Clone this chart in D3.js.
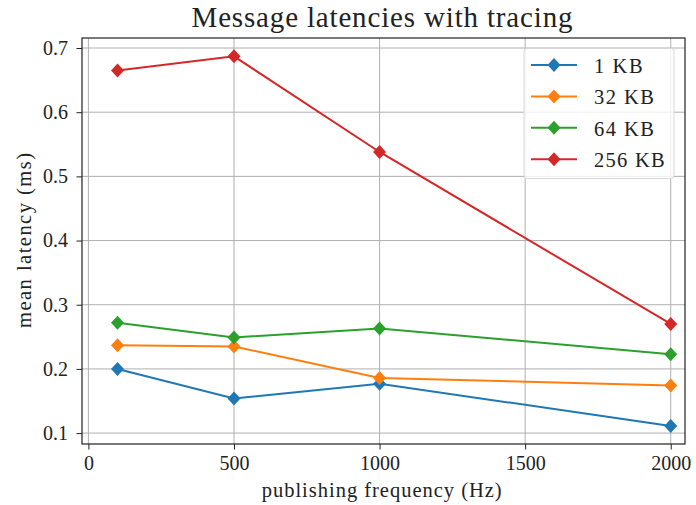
<!DOCTYPE html>
<html>
<head>
<meta charset="utf-8">
<script src="https://cdn.jsdelivr.net/npm/d3@7"></script>
<style>
  body { margin: 0; background: #fff; }
  text { font-family: "Liberation Serif", "DejaVu Serif", serif; fill: #222; }
</style>
</head>
<body>
<svg id="chart" width="696" height="505"></svg>
<script>
var freqs = [100, 500, 1000, 2000];
var lat1 = [0.200, 0.154, 0.177, 0.111];
var lat32 = [0.237, 0.235, 0.186, 0.174];
var lat64 = [0.272, 0.249, 0.263, 0.223];
var lat256 = [0.665, 0.687, 0.538, 0.270];
var xTicks = [0, 500, 1000, 1500, 2000];
var yTicks = [0.1, 0.2, 0.3, 0.4, 0.5, 0.6, 0.7];

var series = [
  {name: '1 KB', values: lat1, color: '#1f77b4', w: 48.6},
  {name: '32 KB', values: lat32, color: '#ff7f0e', w: 60},
  {name: '64 KB', values: lat64, color: '#2ca02c', w: 60},
  {name: '256 KB', values: lat256, color: '#d62728', w: 70.7}
];

var margin = {left: 82, top: 38, right: 685, bottom: 444};
var svg = d3.select('#chart');

var x = d3.scaleLinear().domain([-22, 2049]).range([margin.left, margin.right]);
var y = d3.scaleLinear().domain([0.083, 0.7156]).range([margin.bottom, margin.top]);

// grid
svg.append('g').selectAll('line').data(xTicks).enter().append('line')
  .attr('x1', d => x(d)).attr('x2', d => x(d))
  .attr('y1', margin.top).attr('y2', margin.bottom)
  .attr('stroke', '#b0b0b0').attr('stroke-width', 1);
svg.append('g').selectAll('line').data(yTicks).enter().append('line')
  .attr('y1', d => y(d)).attr('y2', d => y(d))
  .attr('x1', margin.left).attr('x2', margin.right)
  .attr('stroke', '#b0b0b0').attr('stroke-width', 1);

// axes
var xAxis = svg.append('g')
  .attr('transform', 'translate(0,' + margin.bottom + ')')
  .call(d3.axisBottom(x).tickValues(xTicks).tickSize(5.5).tickPadding(6.5).tickFormat(d3.format('d')));
var yAxis = svg.append('g')
  .attr('transform', 'translate(' + margin.left + ',0)')
  .call(d3.axisLeft(y).tickValues(yTicks).tickSize(5.5).tickPadding(8.5).tickFormat(d3.format('.1f')));
[xAxis, yAxis].forEach(function(a) {
  a.select('.domain').remove();
  a.selectAll('line').attr('stroke', '#222');
  a.selectAll('text').style('font-size', '20px').attr('fill', '#222');
});

// frame
svg.append('rect')
  .attr('x', margin.left).attr('y', margin.top)
  .attr('width', margin.right - margin.left).attr('height', margin.bottom - margin.top)
  .attr('fill', 'none').attr('stroke', '#222').attr('stroke-width', 1.2);

var line = d3.line().x((d, i) => x(freqs[i])).y(d => y(d));
var diamond = 'M0,-7L6.5,0L0,7L-6.5,0Z';

series.forEach(function(s) {
  svg.append('path').datum(s.values)
    .attr('d', line).attr('fill', 'none')
    .attr('stroke', s.color).attr('stroke-width', 2);
  svg.append('g').selectAll('path').data(s.values).enter().append('path')
    .attr('d', diamond)
    .attr('transform', (d, i) => 'translate(' + x(freqs[i]) + ',' + y(d) + ')')
    .attr('fill', s.color);
});

// legend
var lg = svg.append('g');
lg.append('rect').attr('x', 524).attr('y', 48.5).attr('width', 150).attr('height', 130)
  .attr('rx', 3).attr('fill', '#fff').attr('fill-opacity', 0.8)
  .attr('stroke', '#d8d8d8');
series.forEach(function(s, i) {
  var cy = 65 + i * 31.4;
  lg.append('line').attr('x1', 531).attr('x2', 577).attr('y1', cy).attr('y2', cy)
    .attr('stroke', s.color).attr('stroke-width', 2);
  lg.append('path').attr('d', diamond).attr('transform', 'translate(554,' + cy + ')').attr('fill', s.color);
  lg.append('text').attr('x', 594).attr('y', cy + 8).style('font-size', '20.5px')
    .attr('textLength', s.w).attr('lengthAdjust', 'spacing').text(s.name);
});

// labels
svg.append('text').attr('x', 382).attr('y', 27).attr('text-anchor', 'middle')
  .style('font-size', '29px').attr('textLength', 381).attr('lengthAdjust', 'spacing')
  .text('Message latencies with tracing');
svg.append('text').attr('x', 381.7).attr('y', 496.5).attr('text-anchor', 'middle')
  .style('font-size', '20.5px').attr('textLength', 240).attr('lengthAdjust', 'spacing')
  .text('publishing frequency (Hz)');
svg.append('text').attr('transform', 'translate(31,240.5) rotate(-90)').attr('text-anchor', 'middle')
  .style('font-size', '20.5px').attr('textLength', 175).attr('lengthAdjust', 'spacing')
  .text('mean latency (ms)');
</script>
</body>
</html>
